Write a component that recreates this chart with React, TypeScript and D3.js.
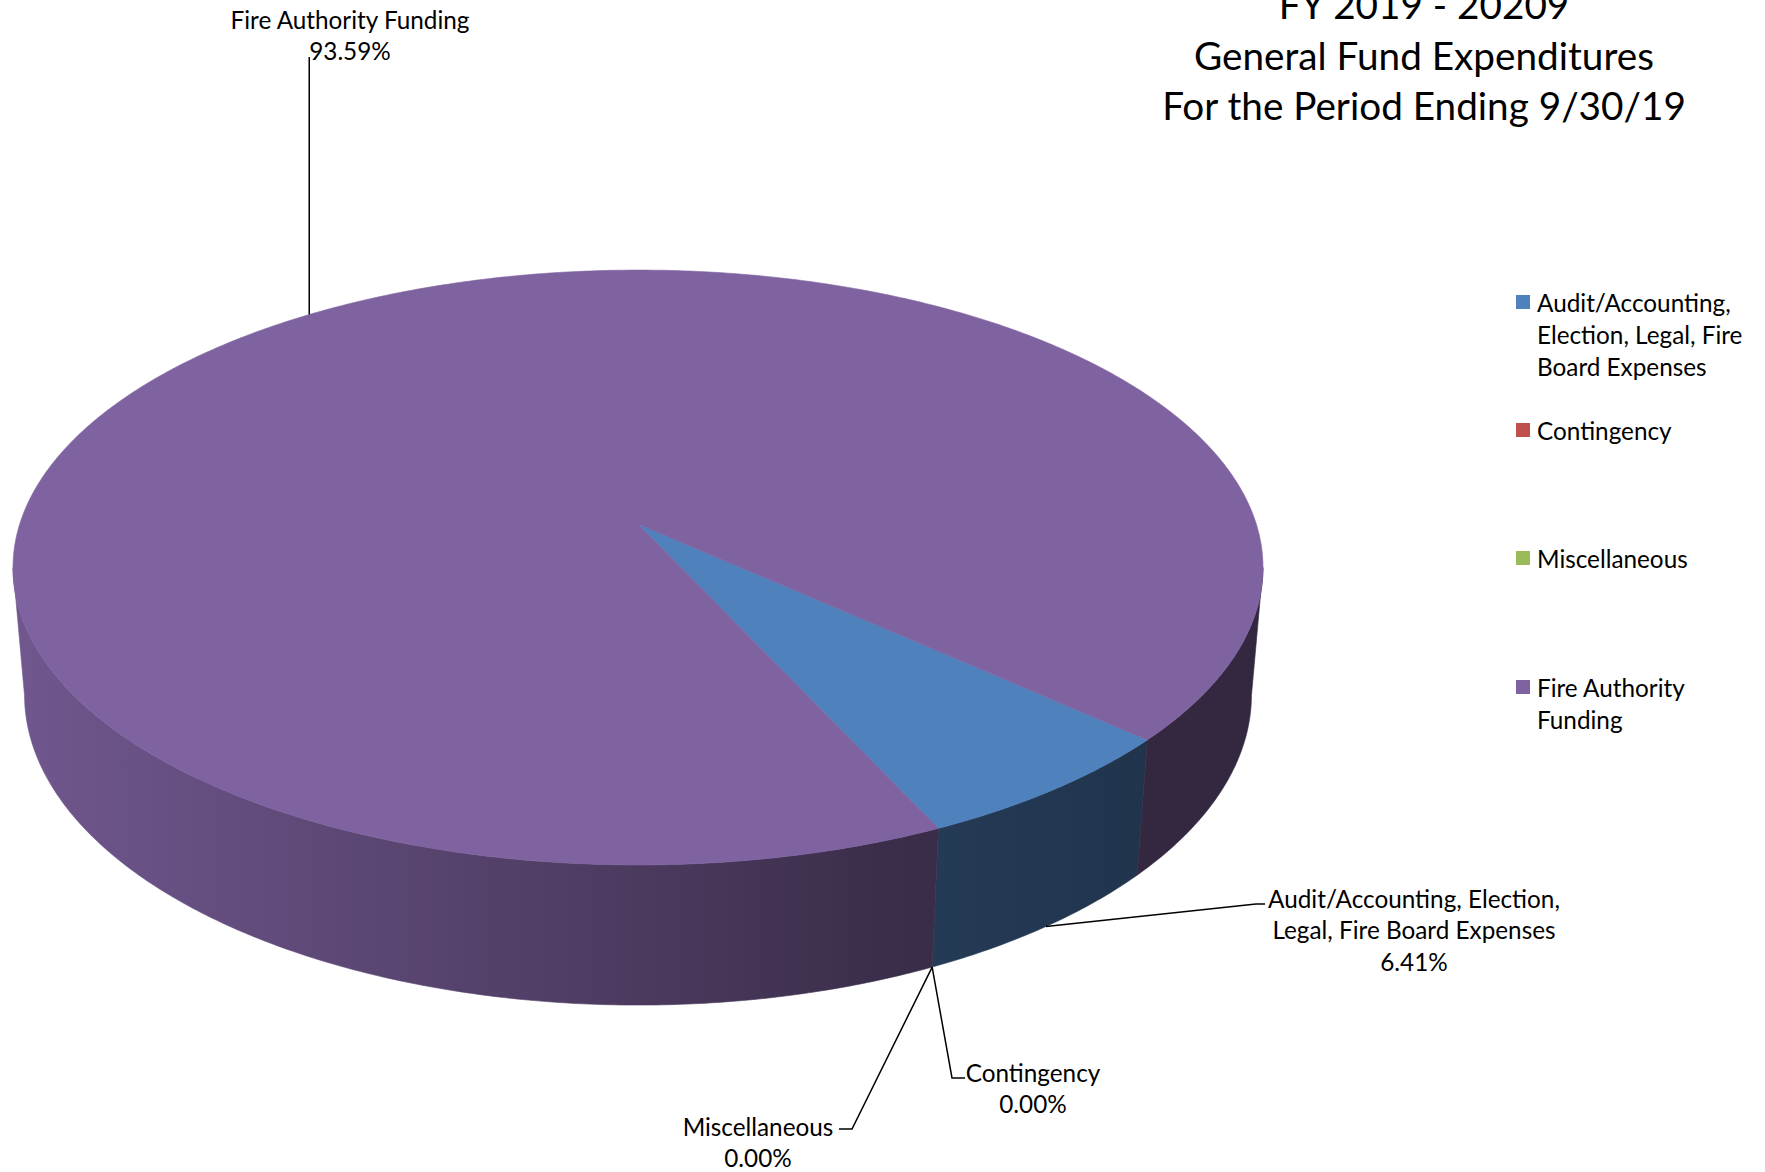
import React from "react";
import * as d3 from "d3";

const categories = [
  "Audit/Accounting, Election, Legal, Fire Board Expenses",
  "Contingency",
  "Miscellaneous",
  "Fire Authority Funding",
];
const values = [6.41, 0, 0, 93.59];
const colors = ["#4F81BD", "#C0504D", "#9BBB59", "#7F63A1"];
const titleLines = ["FY 2019 - 20209", "General Fund Expenditures", "For the Period Ending 9/30/19"];
const legendLines = [
  ["Audit/Accounting,", "Election, Legal, Fire", "Board Expenses"],
  ["Contingency"],
  ["Miscellaneous"],
  ["Fire Authority", "Funding"],
];
const labelLines = [
  ["Audit/Accounting, Election,", "Legal, Fire Board Expenses"],
  ["Contingency"],
  ["Miscellaneous"],
  ["Fire Authority Funding"],
];
const firstSliceAngle = 132; // degrees

const W = 1765;
const H = 1172;
const FONT = "Lato, 'Open Sans', sans-serif";

// perspective projection of the 3D pie
const cx = 638;
const cy = 524;
const R = 0.1658;
const T = 0.03905;
const sinA = 0.4708;
const cosA = Math.sqrt(1 - sinA * sinA);
const f = 3729;
const proj = (theta: number, bottom: boolean): [number, number] => {
  const X = R * Math.sin(theta);
  const Z = -R * Math.cos(theta);
  const Y = bottom ? -T : 0;
  const depth = 1 - Y * sinA - Z * cosA;
  const up = Y * cosA - Z * sinA;
  return [cx + (f * X) / depth, cy - (f * up) / depth];
};

const sampleAngles = (a: number, b: number) => {
  const n = Math.max(2, Math.ceil(Math.abs(b - a) / (Math.PI / 360)));
  return d3.range(n + 1).map((i) => a + ((b - a) * i) / n);
};

const line = d3.line<[number, number]>().x((d) => d[0]).y((d) => d[1]);

// side shading factor by screen x
const shadeStops: [number, number][] = [
  [13, 0.88],
  [360, 0.72],
  [660, 0.58],
  [880, 0.465],
  [1150, 0.4],
  [1265, 0.4],
];

export default function App() {
  const pie = d3
    .pie<number>()
    .sort(null)
    .startAngle((firstSliceAngle * Math.PI) / 180)
    .endAngle((firstSliceAngle * Math.PI) / 180 + 2 * Math.PI);
  const arcs = pie(values);

  const visLo = Math.acos(-R * cosA); // ~98 deg
  const visHi = 2 * Math.PI - visLo;

  const walls: { d: string; i: number }[] = [];
  const tops: { d: string; i: number }[] = [];
  arcs.forEach((a, i) => {
    if (a.endAngle - a.startAngle <= 0) return;
    const angs = sampleAngles(a.startAngle, a.endAngle);
    const topPts = angs.map((t) => proj(t, false));
    tops.push({ d: line([[cx, cy], ...topPts])! + "Z", i });
    for (const off of [0, 2 * Math.PI, -2 * Math.PI]) {
      const s = Math.max(a.startAngle + off, visLo);
      const e = Math.min(a.endAngle + off, visHi);
      if (e > s) {
        const w = sampleAngles(s, e);
        const pts = [...w.map((t) => proj(t, false)), ...w.slice().reverse().map((t) => proj(t, true))];
        walls.push({ d: line(pts)! + "Z", i });
      }
    }
  });

  const mid = (a: d3.PieArcDatum<number>) => (a.startAngle + a.endAngle) / 2;
  const fafAnchor = proj(mid(arcs[3]), false);
  const auditAnchor = proj(mid(arcs[0]), true);
  const zeroAnchor = proj(arcs[1].startAngle, true);

  const pct = values.map((v) => v.toFixed(2) + "%");
  const labelFs = 24.3;
  const lh = 31.5;

  const labelBlock = (lines: string[], x: number, y0: number, key: string) => (
    <text key={key} x={x} textAnchor="middle" fontSize={labelFs} fontFamily={FONT} fill="#000">
      {lines.map((l, j) => (
        <tspan key={j} x={x} y={y0 + j * lh} dominantBaseline="central">
          {l}
        </tspan>
      ))}
    </text>
  );

  const legendY = [302, 430, 558, 687];

  return (
    <svg
      width={W}
      height={H}
      style={{ position: "absolute", left: 0, top: 0, background: "#fff" }}
      xmlns="http://www.w3.org/2000/svg"
    >
      <defs>
        {colors.map((c, i) => {
          const base = d3.rgb(c);
          return (
            <linearGradient key={i} id={`wall${i}`} gradientUnits="userSpaceOnUse" x1={13} y1={0} x2={1265} y2={0}>
              {shadeStops.map(([x, k], j) => (
                <stop
                  key={j}
                  offset={(x - 13) / (1265 - 13)}
                  stopColor={d3.rgb(base.r * k, base.g * k, base.b * k).formatHex()}
                />
              ))}
            </linearGradient>
          );
        })}
      </defs>
      <rect width={W} height={H} fill="#fff" />

      {walls.map((w, j) => (
        <path key={"w" + j} d={w.d} fill={`url(#wall${w.i})`} stroke={`url(#wall${w.i})`} strokeWidth={0.6} />
      ))}
      {tops.map((t, j) => (
        <path key={"t" + j} d={t.d} fill={colors[t.i]} stroke={colors[t.i]} strokeWidth={0.6} />
      ))}

      {/* title */}
      <text x={1424} textAnchor="middle" fontSize={38.7} fontFamily={FONT} fill="#000">
        {titleLines.map((l, j) => (
          <tspan key={j} x={1424} y={4 + j * 50.6} dominantBaseline="central">
            {l}
          </tspan>
        ))}
      </text>

      {/* leader lines */}
      <g fill="none" stroke="#000" strokeWidth={1.5}>
        <path d={line([fafAnchor, [fafAnchor[0], 57]])!} />
        <path d={line([auditAnchor, [1256, 904], [1265, 904]])!} />
        <path d={line([zeroAnchor, [952, 1078], [965, 1078]])!} />
        <path d={line([zeroAnchor, [852, 1129], [839, 1129]])!} />
      </g>

      {/* data labels */}
      {labelBlock([...labelLines[3], pct[3]], 350, 19, "l3")}
      {labelBlock([...labelLines[0], pct[0]], 1414, 898, "l0")}
      {labelBlock([...labelLines[1], pct[1]], 1033, 1072, "l1")}
      {labelBlock([...labelLines[2], pct[2]], 758, 1126, "l2")}

      {/* legend */}
      {categories.map((c, i) => (
        <g key={"lg" + i}>
          <rect x={1516} y={legendY[i] - 7} width={14} height={14} fill={colors[i]} />
          <text fontSize={labelFs} fontFamily={FONT} fill="#000">
            {legendLines[i].map((l, j) => (
              <tspan key={j} x={1537} y={legendY[i] + j * 32} dominantBaseline="central">
                {l}
              </tspan>
            ))}
          </text>
        </g>
      ))}
    </svg>
  );
}
